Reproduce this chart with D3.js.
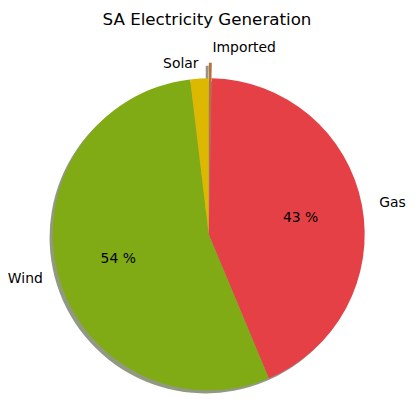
<!DOCTYPE html>
<html>
<head>
<meta charset="utf-8">
<script src="https://cdn.jsdelivr.net/npm/d3@7"></script>
<style>
  html, body { margin: 0; padding: 0; background: #fff; }
  svg text { font-family: "DejaVu Sans", sans-serif; fill: #000; }
</style>
</head>
<body>
<div id="chart"></div>
<script>
// slices in drawing order, clockwise from 12 o'clock
const categories = ["Imported", "Gas", "Wind", "Solar"];
const shares = [0.3, 43.4, 54.4, 1.9];
const sliceColors = ["#b5733a", "#e64047", "#80ab14", "#dcb800"];
const explode = [0.1, 0, 0, 0];

const width = 415;
const height = 414;
const cx = 208.7;
const cy = 234.3;
const radius = 156;

const svg = d3.select("#chart")
  .append("svg")
  .attr("width", width)
  .attr("height", height);

svg.append("text")
  .attr("x", 207)
  .attr("y", 25)
  .attr("text-anchor", "middle")
  .style("font-size", "16.7px")
  .text("SA Electricity Generation");

const data = categories.map((name, i) => ({
  name,
  value: shares[i],
  color: sliceColors[i],
  explode: explode[i]
}));

const pie = d3.pie()
  .sort(null)
  .value((d) => d.value)
  .startAngle(0)
  .endAngle(2 * Math.PI);

const arcs = pie(data);
const arc = d3.arc().innerRadius(0).outerRadius(radius);

// offset of each slice centre after explode
function sliceOffset(a) {
  const mid = (a.startAngle + a.endAngle) / 2;
  const d = a.data.explode * radius;
  return [d * Math.sin(mid), -d * Math.cos(mid)];
}

const g = svg.append("g").attr("transform", `translate(${cx},${cy})`);

// shadows first, underneath every wedge
const shadowOff = 0.02 * radius;
g.selectAll(".shadow")
  .data(arcs)
  .enter()
  .append("path")
  .attr("class", "shadow")
  .attr("transform", (a) => {
    const [ox, oy] = sliceOffset(a);
    return `translate(${ox - shadowOff},${oy + shadowOff})`;
  })
  .attr("d", arc)
  .attr("fill", (a) => {
    const c = d3.rgb(a.data.color);
    return d3.rgb(c.r * 0.3, c.g * 0.3, c.b * 0.3);
  })
  .attr("fill-opacity", 0.5);

g.selectAll(".slice")
  .data(arcs)
  .enter()
  .append("path")
  .attr("class", "slice")
  .attr("transform", (a) => {
    const [ox, oy] = sliceOffset(a);
    return `translate(${ox},${oy})`;
  })
  .attr("d", arc)
  .attr("fill", (a) => a.data.color);

// category labels at 1.1 r
g.selectAll(".label")
  .data(arcs)
  .enter()
  .append("text")
  .attr("class", "label")
  .each(function (a) {
    const mid = (a.startAngle + a.endAngle) / 2;
    const [ox, oy] = sliceOffset(a);
    const x = ox + 1.1 * radius * Math.sin(mid);
    const y = oy - 1.1 * radius * Math.cos(mid);
    d3.select(this)
      .attr("x", x > 0 ? x + 2 : x)
      .attr("y", y)
      .attr("text-anchor", x > 0 ? "start" : "end");
  })
  .attr("dominant-baseline", "central")
  .style("font-size", "13.9px")
  .text((a) => a.data.name);

// percentage labels at 0.6 r
g.selectAll(".pct")
  .data(arcs.filter((a) => a.data.value >= 5))
  .enter()
  .append("text")
  .attr("class", "pct")
  .attr("x", (a) => 0.6 * radius * Math.sin((a.startAngle + a.endAngle) / 2))
  .attr("y", (a) => -0.6 * radius * Math.cos((a.startAngle + a.endAngle) / 2))
  .attr("text-anchor", "middle")
  .attr("dominant-baseline", "central")
  .style("font-size", "13.9px")
  .text((a) => `${d3.format(".0f")(a.data.value)} %`);
</script>
</body>
</html>
